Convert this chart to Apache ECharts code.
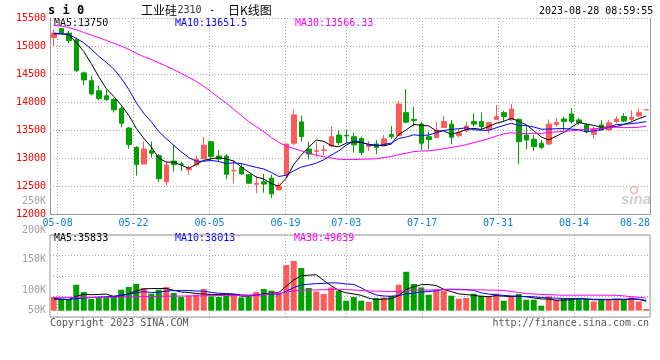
<!DOCTYPE html>
<html><head><meta charset="utf-8">
<script src="https://cdn.jsdelivr.net/npm/echarts@6/dist/echarts.min.js"></script>
<style>html,body{margin:0;padding:0;background:#fff}#c{width:660px;height:360px}</style>
</head><body><div id="c"></div>
<script>
// ---- data ----
const dates = ['05-05','05-08','05-09','05-10','05-11','05-12','05-15','05-16','05-17','05-18','05-19','05-22','05-23','05-24','05-25','05-26','05-29','05-30','05-31','06-01','06-02','06-05','06-06','06-07','06-08','06-09','06-12','06-13','06-14','06-15','06-16','06-19','06-20','06-21','06-26','06-27','06-28','06-29','06-30','07-03','07-04','07-05','07-06','07-07','07-10','07-11','07-12','07-13','07-14','07-17','07-18','07-19','07-20','07-21','07-24','07-25','07-26','07-27','07-28','07-31','08-01','08-02','08-03','08-04','08-07','08-08','08-09','08-10','08-11','08-14','08-15','08-16','08-17','08-18','08-21','08-22','08-23','08-24','08-25','08-28'];
const labelDates = ['05-08','05-22','06-05','06-19','07-03','07-17','07-31','08-14','08-28'];
const openP  = [15150,15310,15230,15110,14520,14380,14200,14110,14045,13885,13535,13190,12893,13130,13040,12575,12945,12895,12790,12880,12985,13290,13035,13035,12770,12835,12700,12530,12575,12640,12430,12700,13262,13645,13160,13120,13135,13215,13410,13405,13380,13350,13205,13250,13220,13420,13400,13810,13690,13605,13380,13365,13545,13605,13400,13485,13650,13650,13515,13690,13810,13680,13690,13410,13335,13260,13250,13600,13695,13785,13680,13590,13425,13590,13500,13650,13740,13690,13750,13860];
const closeP = [15230,15235,15095,14560,14395,14145,14060,14040,13860,13620,13240,12885,13160,13085,12630,12875,12880,12885,12815,12975,13230,13025,12980,12710,12780,12715,12550,12545,12535,12360,12500,13250,13770,13380,13070,13130,13145,13380,13275,13395,13235,13095,13230,13190,13340,13380,13965,13640,13670,13265,13330,13500,13650,13370,13450,13570,13605,13560,13630,13740,13740,13875,13290,13320,13205,13190,13605,13635,13650,13650,13630,13470,13510,13500,13630,13695,13660,13725,13810,13860];
const lowP   = [15000,15220,15050,14530,14300,14120,14030,14025,13810,13545,13165,12685,12890,13005,12575,12510,12755,12770,12700,12850,12980,12965,12935,12620,12550,12700,12540,12370,12380,12280,12425,12655,13230,13290,12975,13010,13055,13195,13230,13260,13095,13055,13125,13070,13215,13340,13395,13620,13560,13145,13155,13360,13535,13245,13370,13455,13560,13490,13440,13680,13650,13660,12895,13155,13125,13155,13230,13560,13500,13620,13590,13440,13350,13495,13490,13620,13640,13650,13740,13860];
const highP  = [15300,15320,15260,15150,14545,14470,14290,14225,14070,13920,13555,13210,13290,13290,13070,12940,13230,12935,12860,13040,13375,13300,13145,13070,12965,12905,12715,12670,12715,12700,12560,13255,13870,13755,13290,13290,13230,13560,13500,13500,13450,13380,13305,13320,13410,13570,14025,14230,13915,13650,13470,13650,13750,13680,13530,13650,13800,13810,13640,13945,13845,13965,13710,13570,13410,13320,13690,13710,13740,13885,13710,13620,13560,13680,13680,13750,13800,13855,13885,13860];
const volume = [52000,44500,44500,98800,71000,44500,50500,50500,54300,79800,90000,101500,86300,64600,79800,90000,67300,52100,57000,60800,82500,54300,52100,57000,63500,50500,52100,71000,82500,76000,63500,173700,188900,162300,86300,73300,63500,88500,76000,38000,52100,38000,33100,48300,50500,57000,98800,148200,101500,88500,60800,79800,76000,57000,45600,48300,64600,57000,52100,64600,38000,57000,63500,41800,41800,19000,54300,41800,44500,48300,44500,44500,35300,44500,44500,44500,41800,50500,35300,6500];
// moving-average values before a full window exists
const priceMa5Lead  = [15218,15215,15198,15062];
const priceMa10Lead = [15225,15225,15205,15135,15058,14945,14815,14708,14590];
const priceMa30Lead = [15370,15355,15330,15290,15240,15195,15150,15100,15050,15000,14940,14870,14810,14760,14700,14640,14580,14510,14440,14370,14280,14180,14080,13980,13870,13760,13650,13560,13470];
const volMa5Lead  = [45600,44300,41800,55000];
const volMa10Lead = [44000,43500,43000,46000,48500,50000,51500,53000,55000];
const volMa30Lead = [50700,50700,50500,50800,51000,51000,51200,51300,51500,52000,52500,53000,53600,54000,54500,55200,55600,55800,56200,56600,57200,57500,57800,58200,58600,58800,59200,59600,60000];
const priceTicks = {min:12000, max:15500, step:500};
const volTickLabels = ['250K','200K','150K','100K','50K'];
const legendPrice = ['MA5:13750','MA10:13651.5','MA30:13566.33'];
const legendVol = ['MA5:35833','MA10:38013','MA30:49639'];

// ---- chart ----
const MONO = 'DejaVu Sans Mono';
const UP = '#ff5a5a', DOWN = '#00a000';
const GRIDC = '#aaaaaa', BORDER = '#999999';
function movingAvg(src, win, lead) {
  const out = [];
  for (let i = 0; i < src.length; i++) {
    if (i < lead.length) { out.push(lead[i]); continue; }
    let s = 0; for (let k = i - win + 1; k <= i; k++) s += src[k];
    out.push(+(s / win).toFixed(2));
  }
  return out;
}
function isUp(i) {
  if (closeP[i] !== openP[i]) return closeP[i] > openP[i];
  return i === 0 || closeP[i] >= closeP[i - 1];
}
const candles = dates.map((d, i) => [openP[i], closeP[i], lowP[i], highP[i]]);
const volBars = volume.map((v, i) => ({ value: v, itemStyle: { color: isUp(i) ? UP : DOWN } }));
const showDate = (i, v) => labelDates.indexOf(v) >= 0;
const dotted = { color: GRIDC, type: [1, 2], width: 1 };

const chart = echarts.init(document.getElementById('c'));
const txt = (text, x, y, fill, extra) => Object.assign({
  type: 'text', x: x, y: y, silent: true,
  style: Object.assign({ text: text, fill: fill, font: '10px ' + MONO, align: 'left', verticalAlign: 'middle' }, extra || {})
});

chart.setOption({
  animation: false,
  backgroundColor: '#fff',
  textStyle: { fontFamily: MONO },
  grid: [
    { left: 50, right: 10, top: 18, height: 196, show: false },
    { left: 50, right: 10, top: 235, height: 82, show: true, borderColor: BORDER, borderWidth: 1, backgroundColor: 'transparent' }
  ],
  xAxis: [
    { type: 'category', gridIndex: 0, data: dates, boundaryGap: true, position: 'bottom',
      axisLine: { show: true, lineStyle: { color: BORDER } }, axisTick: { show: false }, axisLabel: { show: false }, splitLine: { show: false } },
    { type: 'category', gridIndex: 0, data: dates, boundaryGap: false, position: 'bottom', offset: 0,
      axisLine: { show: false }, axisTick: { show: false },
      axisLabel: { show: true, interval: showDate, color: '#0a7fd4', fontFamily: MONO, fontSize: 10, margin: 4, showMaxLabel: true, alignMaxLabel: 'right' },
      splitLine: { show: true, interval: showDate, lineStyle: dotted } },
    { type: 'category', gridIndex: 1, data: dates, boundaryGap: true, position: 'bottom',
      axisLine: { show: false }, axisTick: { show: false }, axisLabel: { show: false }, splitLine: { show: false } },
    { type: 'category', gridIndex: 1, data: dates, boundaryGap: false, position: 'bottom', offset: 0,
      axisLine: { show: false }, axisTick: { show: false }, axisLabel: { show: false },
      splitLine: { show: true, interval: showDate, lineStyle: dotted } }
  ],
  yAxis: [
    { type: 'value', gridIndex: 0, min: priceTicks.min, max: priceTicks.max, interval: priceTicks.step, position: 'left',
      axisLine: { show: true, lineStyle: { color: BORDER } }, axisTick: { show: false },
      axisLabel: { color: '#ff0000', fontFamily: MONO, fontSize: 10, margin: 4, formatter: v => String(v) },
      splitLine: { show: true, lineStyle: dotted } },
    { type: 'value', gridIndex: 0, min: priceTicks.min, max: priceTicks.max, position: 'right',
      axisLine: { show: true, lineStyle: { color: BORDER } }, axisTick: { show: false }, axisLabel: { show: false }, splitLine: { show: false } },
    { type: 'value', gridIndex: 1, min: -24000, max: 288000, position: 'left',
      axisLine: { show: false }, axisTick: { show: false }, axisLabel: { show: false }, splitLine: { show: false } },
    { type: 'value', gridIndex: 1, min: 0, max: 4, interval: 1, position: 'left',
      axisLine: { show: false }, axisTick: { show: false }, axisLabel: { show: false }, splitLine: { show: true, lineStyle: dotted } }
  ],
  series: [
    { type: 'candlestick', xAxisIndex: 0, yAxisIndex: 0, data: candles, barWidth: 5, z: 2,
      itemStyle: { color: UP, color0: DOWN, borderColor: UP, borderColor0: DOWN, borderWidth: 1 } },
    { type: 'line', xAxisIndex: 0, yAxisIndex: 0, data: movingAvg(closeP, 5, priceMa5Lead), symbol: 'none', z: 4, lineStyle: { color: '#000', width: 1 } },
    { type: 'line', xAxisIndex: 0, yAxisIndex: 0, data: movingAvg(closeP, 10, priceMa10Lead), symbol: 'none', z: 4, lineStyle: { color: '#0000ff', width: 1 } },
    { type: 'line', xAxisIndex: 0, yAxisIndex: 0, data: movingAvg(closeP, 30, priceMa30Lead), symbol: 'none', z: 4, lineStyle: { color: '#ff00ff', width: 1 } },
    { type: 'bar', xAxisIndex: 2, yAxisIndex: 2, data: volBars, barWidth: 6, z: 2 },
    { type: 'line', xAxisIndex: 2, yAxisIndex: 2, data: movingAvg(volume, 5, volMa5Lead), symbol: 'none', z: 4, lineStyle: { color: '#000', width: 1 } },
    { type: 'line', xAxisIndex: 2, yAxisIndex: 2, data: movingAvg(volume, 10, volMa10Lead), symbol: 'none', z: 4, lineStyle: { color: '#0000ff', width: 1 } },
    { type: 'line', xAxisIndex: 2, yAxisIndex: 2, data: movingAvg(volume, 30, volMa30Lead), symbol: 'none', z: 4, lineStyle: { color: '#ff00ff', width: 1 } }
  ],
  graphic: [
    txt('s i 0', 48, 11, '#000', { font: 'bold 12px ' + MONO }),
    txt('工业硅', 141, 10, '#000', { font: '12px "Noto Sans CJK SC"' }),
    txt('2310', 177.5, 10, '#333', { font: '10px ' + MONO }),
    txt('-', 209, 10, '#000', { font: '11px ' + MONO }),
    txt('日K线图', 228, 10, '#000', { font: '12px "Noto Sans CJK SC"' }),
    txt('2023-08-28 08:59:55', 539, 11, '#000'),
    txt(legendPrice[0], 54, 23, '#000'),
    txt(legendPrice[1], 175, 23, '#0000ff'),
    txt(legendPrice[2], 295, 23, '#ff00ff'),
    txt(legendVol[0], 54, 238.5, '#000'),
    txt(legendVol[1], 175, 238.5, '#0000ff'),
    txt(legendVol[2], 294, 238.5, '#ff00ff'),
    txt(volTickLabels[0], 46, 201, '#a0a0a0', { align: 'right' }),
    txt(volTickLabels[1], 46, 230, '#a0a0a0', { align: 'right' }),
    txt(volTickLabels[2], 46, 259.5, '#a0a0a0', { align: 'right' }),
    txt(volTickLabels[3], 46, 290, '#a0a0a0', { align: 'right' }),
    txt(volTickLabels[4], 46, 310, '#a0a0a0', { align: 'right' }),
    txt('Copyright 2023 SINA.COM', 50, 323.5, '#555'),
    txt('http://finance.sina.com.cn', 649, 323.5, '#555', { align: 'right' }),
    { type: 'circle', silent: true, shape: { cx: 634, cy: 190, r: 3.5 }, style: { fill: 'none', stroke: '#f3b0b0', lineWidth: 1.5 } },
    txt('sina', 621, 200, '#cfcfcf', { font: 'italic bold 15px "Liberation Sans"' })
  ]
});
</script>
</body></html>
